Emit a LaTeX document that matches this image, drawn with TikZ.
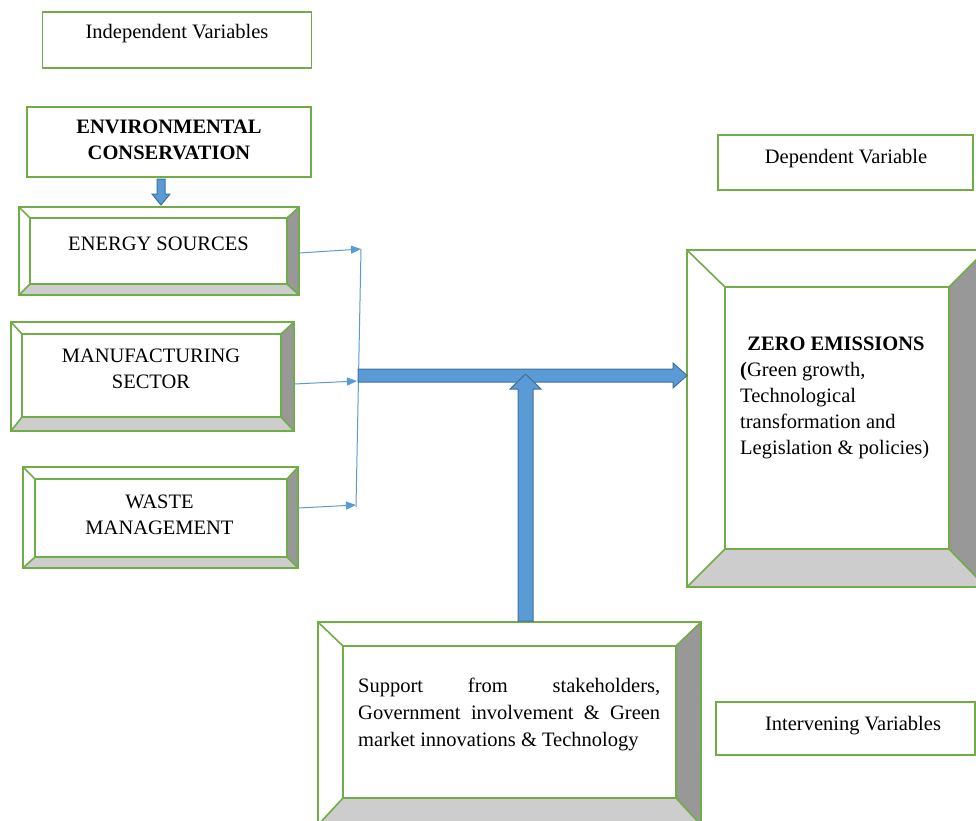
\documentclass[tikz,border=0pt]{standalone}
\usepackage{fontspec}
\setmainfont{Liberation Serif}
\usetikzlibrary{calc,arrows.meta}
\definecolor{grn}{RGB}{112,173,71}
\definecolor{bevdark}{RGB}{152,152,152}
\definecolor{bevlight}{RGB}{205,205,205}
\definecolor{arrfill}{RGB}{91,155,213}
\definecolor{arrline}{RGB}{65,113,156}
\tikzset{
  bevline/.style={draw=grn, line width=1.6pt, line join=miter},
  plainbox/.style={draw=grn, line width=1.6pt, inner sep=0pt},
  lbl/.style={font=\fontsize{20.5}{26}\selectfont, inner sep=0pt, align=center},
  lblb/.style={font=\fontsize{20.5}{26}\selectfont\bfseries, inner sep=0pt, align=center},
  thinline/.style={draw=arrfill, line width=1pt},
  thinarrow/.style={draw=arrfill, line width=1pt, -{Triangle[length=10pt,width=8pt]}},
  blockarrow/.style={fill=arrfill, draw=arrline, line width=1pt, line join=miter},
}
% #1 name, #2 x1, #3 y1, #4 x2, #5 y2, #6 left, #7 top, #8 right, #9 bottom bevel
\newcommand{\bevbox}[9]{%
  \fill[bevdark] (#4,#3) -- (#4,#5) -- ({#4-#8},{#5-#9}) -- ({#4-#8},{#3+#7}) -- cycle;
  \fill[bevlight] (#2,#5) -- (#4,#5) -- ({#4-#8},{#5-#9}) -- ({#2+#6},{#5-#9}) -- cycle;
  \draw[bevline] (#2,#3) rectangle (#4,#5);
  \draw[bevline] ({#2+#6},{#3+#7}) rectangle ({#4-#8},{#5-#9});
  \draw[bevline] (#2,#3) -- ({#2+#6},{#3+#7})
                 (#4,#3) -- ({#4-#8},{#3+#7})
                 (#4,#5) -- ({#4-#8},{#5-#9})
                 (#2,#5) -- ({#2+#6},{#5-#9});
  \path ({(#2+#4)/2},{(#3+#5)/2}) node[minimum width={#4-#2}, minimum height={#5-#3}, inner sep=0pt, draw=none] (#1) {};
}
\begin{document}
\begin{tikzpicture}[x=1pt,y=-1pt]
\useasboundingbox (0,0) rectangle (976,820);
\clip (0,0) rectangle (976,820);
\fill[white] (0,0) rectangle (976,820);

% plain boxes
\node[plainbox, minimum width=269pt, minimum height=56pt] (ivbox) at (177,40) {};
\node[plainbox, minimum width=284pt, minimum height=70pt] (env) at (169,142) {};
\node[plainbox, minimum width=255pt, minimum height=55pt] (dvbox) at (845.5,162.5) {};
\node[plainbox, minimum width=259pt, minimum height=53pt] (intbox) at (845.5,728.5) {};

% bevelled boxes
\bevbox{es}{19}{207}{299}{295}{11}{11}{12}{11}
\bevbox{ms}{11}{322}{294}{431}{11}{12}{13}{14}
\bevbox{wm}{23}{467}{298}{568}{12}{12}{11}{11}
\bevbox{ze}{687}{250}{986}{587}{38}{37}{37}{38}
\bevbox{sp}{318}{622}{701}{825}{25}{24}{25}{27}

% thin connectors
\coordinate (j1) at (361,249);
\coordinate (j2) at (357,381);
\coordinate (j3) at (356,505);
\draw[thinline] (j1) -- ($(j3)+(0,2)$);
\draw[thinarrow] ($(es.east)+(0,2)$) -- (j1);
\draw[thinarrow] ($(ms.east)+(0,7.5)$) -- (j2);
\draw[thinarrow] ($(wm.east)+(0,-9.5)$) -- (j3);

% block arrows
\draw[blockarrow] (157,179) -- (165,179) -- (165,194) -- (170,194) -- (161,205) -- (152,194) -- (157,194) -- cycle;
\draw[blockarrow] (358,369) -- (673,369) -- (673,363) -- (687,375.5) -- (673,388) -- (673,382) -- (358,382) -- cycle;
\draw[blockarrow] (518,621) -- (518,389) -- (510,389) -- (525.5,374) -- (541,389) -- (533,389) -- (533,621) -- cycle;

% texts
\node[lbl] (ivt) at (177,34) {Independent Variables};
\node[lblb] (envt) at (169,140) {ENVIRONMENTAL\\CONSERVATION};
\node[lbl] (est) at (158.5,243.5) {ENERGY SOURCES};
\node[lbl] (mst) at (151,368.5) {MANUFACTURING\\SECTOR};
\node[lbl] (wmt) at (159.5,515) {WASTE\\MANAGEMENT};
\node[lbl] (dvt) at (846,159) {Dependent Variable};
\node[lbl] (intt) at (853,726) {Intervening Variables};
\node[lblb] (zet) at (836,344) {ZERO EMISSIONS};
\node[lbl, align=left, anchor=north west] (zeb) at (740,362) {\textbf{(}Green growth,\\Technological\\transformation and\\Legislation \& policies)};
\node[lbl, font=\fontsize{20.5}{27}\selectfont, anchor=north west, text width=302pt, align=justify] (spt) at (358,678) {Support from stakeholders,\linebreak Government involvement \& Green\linebreak market innovations \& Technology};
\end{tikzpicture}
\end{document}
